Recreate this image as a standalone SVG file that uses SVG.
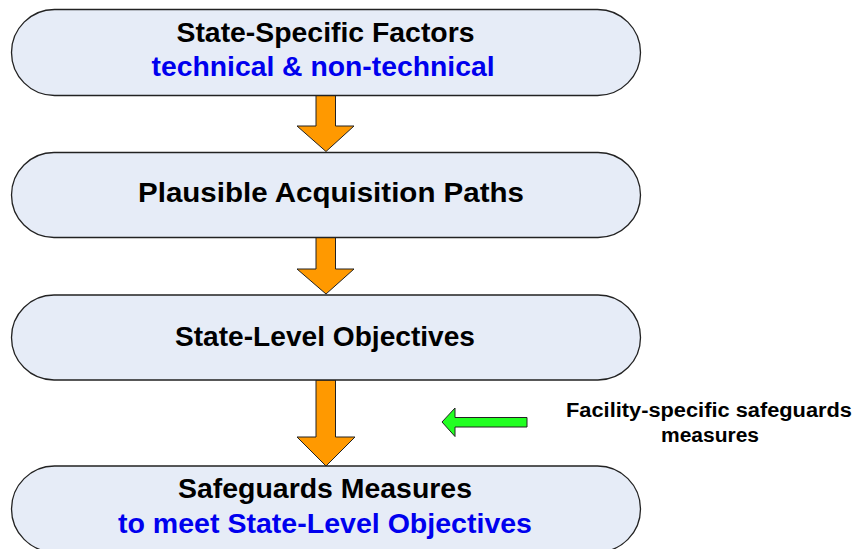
<svg xmlns="http://www.w3.org/2000/svg" width="860" height="549" viewBox="0 0 860 549">
<defs>
<style>
.box{fill:#E6ECF7;stroke:#222;stroke-width:1.3}
.t{font-family:"Liberation Sans",Arial,sans-serif;font-weight:bold;font-size:28px;text-anchor:middle;fill:#000}
.b{fill:#0000EE}
.g{font-family:"Liberation Sans",Arial,sans-serif;font-weight:bold;font-size:20px;text-anchor:middle;fill:#000}
.oa{fill:#FF9900;stroke:#222;stroke-width:1}
.ga{fill:#22FF22;stroke:#222;stroke-width:1}
</style>
</defs>
<rect width="860" height="549" fill="#fff"/>
<g id="connectors">
<polygon class="oa" points="316,95 335.5,95 335.5,126 354,126 326,151.5 297,126 316,126"/>
<polygon class="oa" points="316,237.5 335.5,237.5 335.5,269 354,269 326,294 297,269 316,269"/>
<polygon class="oa" points="316,380 335.5,380 335.5,437 355,437 326,466 297,437 316,437"/>
<polygon class="ga" points="527,417.5 455,417.5 455,408 442,422 455,436.5 455,427 527,427"/>
</g>
<g id="node1">
<rect class="box" x="11.5" y="9.5" width="629" height="86" rx="43" ry="43"/>
<text class="t" x="325.5" y="42" textLength="298" lengthAdjust="spacingAndGlyphs">State-Specific Factors</text>
<text class="t b" x="323" y="76" textLength="343" lengthAdjust="spacingAndGlyphs">technical &amp; non-technical</text>
</g>
<g id="node2">
<rect class="box" x="11.5" y="152.5" width="629" height="85" rx="42.5" ry="42.5"/>
<text class="t" x="331" y="202" textLength="386" lengthAdjust="spacingAndGlyphs">Plausible Acquisition Paths</text>
</g>
<g id="node3">
<rect class="box" x="11.5" y="295" width="629" height="85" rx="42.5" ry="42.5"/>
<text class="t" x="325" y="345.5" textLength="300" lengthAdjust="spacingAndGlyphs">State-Level Objectives</text>
</g>
<g id="node4">
<rect class="box" x="11.5" y="466" width="629" height="86" rx="43" ry="43"/>
<text class="t" x="325" y="498" textLength="294" lengthAdjust="spacingAndGlyphs">Safeguards Measures</text>
<text class="t b" x="325" y="533" textLength="414" lengthAdjust="spacingAndGlyphs">to meet State-Level Objectives</text>
</g>
<g id="note">
<text class="g" x="709" y="417" textLength="286" lengthAdjust="spacingAndGlyphs">Facility-specific safeguards</text>
<text class="g" x="710" y="442" textLength="98" lengthAdjust="spacingAndGlyphs">measures</text>
</g>
</svg>
